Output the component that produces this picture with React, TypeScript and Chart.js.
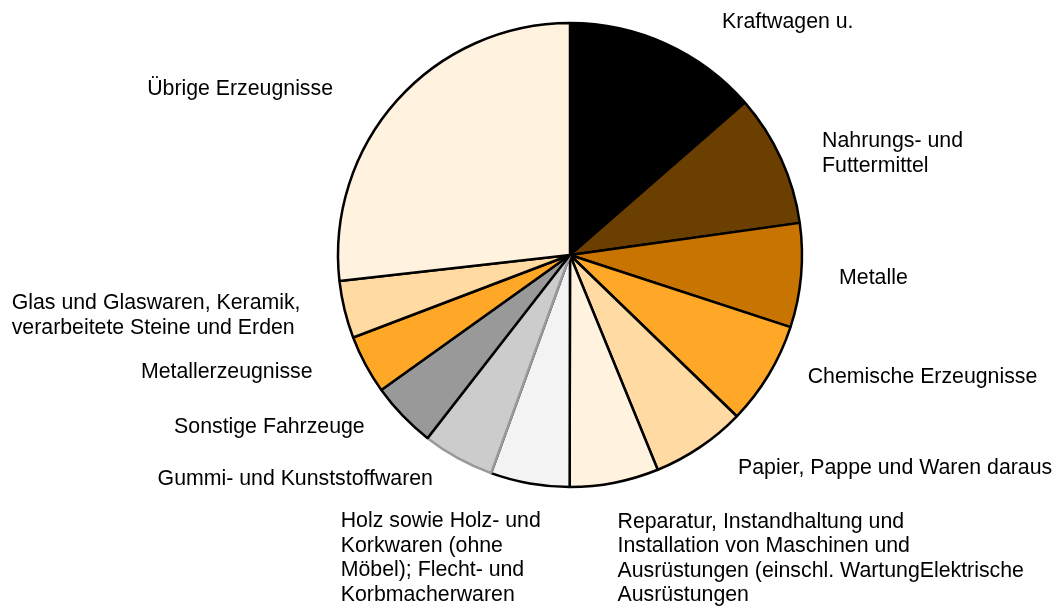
import React, { useEffect, useRef } from "react";
import { Chart, registerables } from "chart.js";

Chart.register(...registerables);

const categories: string[][] = [
  ["Kraftwagen u."],
  ["Nahrungs- und", "Futtermittel"],
  ["Metalle"],
  ["Chemische Erzeugnisse"],
  ["Papier, Pappe und Waren daraus"],
  ["Reparatur, Instandhaltung und", "Installation von Maschinen und", "Ausrüstungen (einschl. WartungElektrische", "Ausrüstungen"],
  ["Holz sowie Holz- und", "Korkwaren (ohne", "Möbel); Flecht- und", "Korbmacherwaren"],
  ["Gummi- und Kunststoffwaren"],
  ["Sonstige Fahrzeuge"],
  ["Metallerzeugnisse"],
  ["Glas und Glaswaren, Keramik,", "verarbeitete Steine und Erden"],
  ["Übrige Erzeugnisse"],
];

const shares: number[] = [13.6, 9.2, 7.25, 7.2, 6.6, 6.2, 5.5, 5.0, 4.6, 4.1, 4.0, 26.8];

const sliceColors: string[] = [
  "#000000", "#6B3F00", "#C87400", "#FFA726", "#FFDBA3", "#FFF3E0",
  "#F3F3F3", "#CCCCCC", "#999999", "#FFA726", "#FFDBA3", "#FFF3E0",
];

const sliceBorders: string[] = [
  "#000000", "#000000", "#000000", "#000000", "#000000", "#000000",
  "#000000", "#999999", "#000000", "#000000", "#000000", "#000000",
];

// label layout: offset from the slice's outer mid-point and alignment
const labelOffsets: [number, number][] = [
  [56, -24], [41, -7], [38, 1], [39, 1], [38, 19], [3, 74],
  [11, 73], [-25, 19], [-38, 10], [-53, 6], [-44, 4], [-64, -13],
];
const labelAlign: string[] = [
  "left", "left", "left", "left", "left", "left",
  "blockRight", "right", "right", "right", "blockRight", "right",
];

const FONT_SIZE = 21.3;
const LINE_H = 24.5;

const labelPlugin = {
  id: "outerLabels",
  afterDatasetsDraw(chart: any) {
    const ctx = chart.ctx;
    const meta = chart.getDatasetMeta(0);
    ctx.save();
    ctx.font = `${FONT_SIZE}px "Liberation Sans", Arial, sans-serif`;
    ctx.fillStyle = "#000000";
    ctx.textBaseline = "alphabetic";
    meta.data.forEach((arc: any, i: number) => {
      const p = arc.getProps(["x", "y", "startAngle", "endAngle", "outerRadius"], true);
      const mid = (p.startAngle + p.endAngle) / 2;
      const ax = p.x + Math.cos(mid) * p.outerRadius + labelOffsets[i][0];
      const ay = p.y + Math.sin(mid) * p.outerRadius + labelOffsets[i][1];
      const lines = categories[i];
      const n = lines.length;
      const firstCenter = ay - ((n - 1) * LINE_H) / 2;
      const align = labelAlign[i];
      let x = ax;
      if (align === "blockRight") {
        const w = Math.max(...lines.map((l) => ctx.measureText(l).width));
        x = ax - w;
        ctx.textAlign = "left";
      } else {
        ctx.textAlign = align;
      }
      lines.forEach((line, j) => {
        const cy = firstCenter + j * LINE_H;
        ctx.fillText(line, x, cy + FONT_SIZE * 0.36);
      });
    });
    ctx.restore();
  },
};

export default function App() {
  const canvasRef = useRef<HTMLCanvasElement | null>(null);

  useEffect(() => {
    if (!canvasRef.current) return;
    const chart = new Chart(canvasRef.current, {
      type: "pie",
      data: {
        labels: categories,
        datasets: [
          {
            data: shares,
            backgroundColor: sliceColors,
            borderColor: sliceBorders,
            borderWidth: 2.5,
          },
        ],
      },
      options: {
        animation: false,
        responsive: true,
        maintainAspectRatio: false,
        radius: 232,
        layout: { padding: { left: 84, right: 0, top: 0, bottom: 96 } },
        plugins: {
          legend: { display: false },
          tooltip: { enabled: false },
        },
      } as any,
      plugins: [labelPlugin],
    });
    return () => chart.destroy();
  }, []);

  return (
    <div style={{ position: "absolute", left: 0, top: 0, width: 1056, height: 606, background: "#ffffff" }}>
      <canvas ref={canvasRef} />
    </div>
  );
}
